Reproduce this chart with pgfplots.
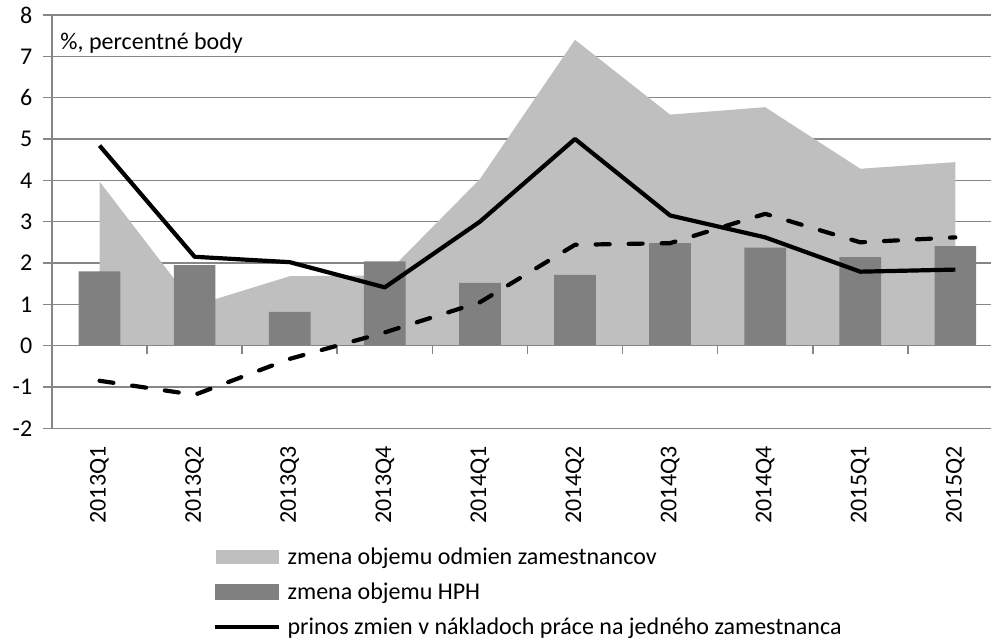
\documentclass[border=0pt]{standalone}
\usepackage{pgfplots}
\pgfplotsset{compat=1.18}
\usepackage{fontspec}
\setmainfont{Carlito}

\definecolor{areacol}{RGB}{191,191,191}
\definecolor{barcol}{RGB}{128,128,128}
\definecolor{gridcol}{RGB}{134,134,134}

\begin{document}
\begin{tikzpicture}[font=\fontsize{12}{14}\selectfont]
\begin{axis}[
    at={(0pt,0pt)}, anchor=south west,
    width=469.5pt, height=206.65pt, scale only axis,
    xmin=-0.5, xmax=9.375,
    ymin=-2, ymax=8,
    clip=false,
    axis line style={draw=none},
    ytick={-2,-1,0,1,2,3,4,5,6,7,8},
    yticklabels={-2,-1,0,1,2,3,4,5,6,7,8},
    xtick={0,1,2,3,4,5,6,7,8,9},
    xticklabels={2013Q1,2013Q2,2013Q3,2013Q4,2014Q1,2014Q2,2014Q3,2014Q4,2015Q1,2015Q2},
    tick align=outside,
    major tick length=4.5pt,
    xtick style={draw=none},
    ytick style={draw=gridcol, line width=0.8pt},
    ymajorgrids,
    grid style={draw=gridcol, line width=0.8pt},
    yticklabel style={anchor=east, inner sep=0pt, xshift=-5.2pt},
    xticklabel style={rotate=90, anchor=east, inner sep=0pt, xshift=-4.4pt},
    legend style={at={(0.1704,-0.2845)}, anchor=north west, draw=none, fill=none,
        inner sep=0pt, row sep=6.5pt, column sep=3.5pt,
        nodes={inner sep=0pt, text height=9pt, text depth=2pt}},
    legend cell align=left,
]
% zmena objemu odmien zamestnancov
\addplot[fill=areacol, draw=none,
    legend image code/.code={\fill[areacol] (0.8pt,-3.6pt) rectangle (32pt,3.6pt);}]
    coordinates {(0,3.97) (1,0.97) (2,1.68) (3,1.70) (4,4.03) (5,7.40) (6,5.59) (7,5.77) (8,4.28) (9,4.44)} \closedcycle;
% zmena objemu HPH
\addplot[ybar, bar width=20.85pt, fill=barcol, draw=none,
    legend image code/.code={\fill[barcol] (0pt,-4pt) rectangle (32pt,4pt);}]
    coordinates {(0,1.80) (1,1.95) (2,0.82) (3,2.04) (4,1.52) (5,1.71) (6,2.48) (7,2.37) (8,2.14) (9,2.41)};
\draw[gridcol, line width=0.8pt] (axis cs:-0.5,0) -- (axis cs:9.375,0);
\pgfplotsinvokeforeach{0.5,1.5,2.5,3.5,4.5,5.5,6.5,7.5,8.5}{
    \draw[gridcol, line width=0.8pt] (axis cs:#1,0) -- ([yshift=-4pt]axis cs:#1,0);
}
\draw[gridcol, line width=0.8pt] (rel axis cs:0,0) -- (rel axis cs:0,1);
% prinos zmien v nakladoch prace
\addplot[black, line width=2.1pt, line join=round,
    legend image code/.code={\draw[black, line width=2.1pt] (0pt,0pt) -- (32pt,0pt);}]
    coordinates {(0,4.84) (1,2.15) (2,2.02) (3,1.41) (4,3.00) (5,5.00) (6,3.15) (7,2.62) (8,1.79) (9,1.84)};
% dashed series (legend entry cut off in the reference)
\addplot[black, line width=2.1pt, line cap=round, line join=round, dash pattern=on 7pt off 9.5pt]
    coordinates {(0,-0.85) (1,-1.19) (2,-0.32) (3,0.32) (4,1.05) (5,2.44) (6,2.48) (7,3.19) (8,2.50) (9,2.62)};
\node[anchor=west, inner sep=0pt] at (axis cs:-0.415,7.32) {\%, percentné body};
\legend{zmena objemu odmien zamestnancov, zmena objemu HPH, prinos zmien v nákladoch práce na jedného zamestnanca}
\end{axis}
\pgfresetboundingbox
\path (-26pt,-105.35pt) rectangle (469.5pt,214.15pt);
\end{tikzpicture}
\end{document}
